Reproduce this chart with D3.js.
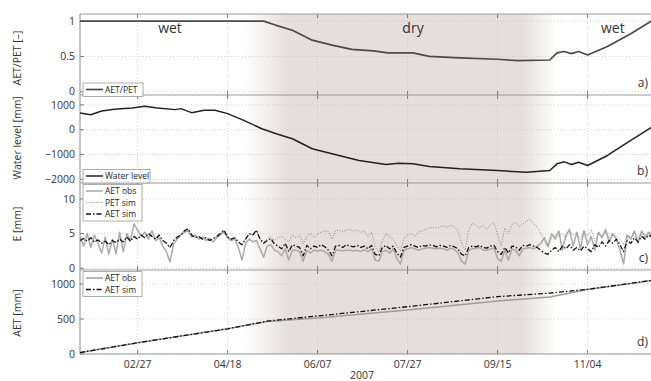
<!DOCTYPE html>
<html>
<head>
<meta charset="utf-8">
<script src="https://cdn.jsdelivr.net/npm/d3@7"></script>
<style>
  body { margin: 0; background: #fff; }
  svg { display: block; font-family: "Open Sans", sans-serif; }
</style>
</head>
<body>
<div id="chart"></div>
<script>
// ---- data ----
var xTickDates = ["02/27", "04/18", "06/07", "07/27", "09/15", "11/04"];
var seasonLabels = ["wet", "dry", "wet"];
var seasonDates = ["03/17", "07/30", "11/18"];
var dryShade = ["04/27", "05/22", "09/28", "10/18"];   // fade in, full, full, fade out

// a) AET/PET
var ratioDates = ["01/26", "05/08", "05/15", "05/24", "06/04", "06/15", "06/26", "07/08", "07/16", "07/30",
  "08/08", "08/25", "09/15", "09/26", "10/14", "10/18", "10/22", "10/26", "10/30", "11/04", "11/15", "11/28", "12/10"];
var ratioVals = [1, 1, 0.94, 0.87, 0.73, 0.66, 0.60, 0.58, 0.55, 0.55,
  0.50, 0.48, 0.46, 0.44, 0.45, 0.55, 0.57, 0.54, 0.57, 0.52, 0.64, 0.82, 1.01];

// b) water level
var waterDates = ["01/26", "02/01", "02/07", "02/14", "02/24", "03/03", "03/10", "03/20", "03/23", "03/29",
  "04/05", "04/11", "04/18", "04/27", "05/07", "05/15", "05/24", "06/04", "06/15", "06/30", "07/15", "07/22",
  "07/30", "08/08", "08/25", "09/15", "10/01", "10/14", "10/18", "10/22", "10/26", "10/30", "11/04", "11/15",
  "11/28", "12/10"];
var waterVals = [670, 600, 753, 822, 874, 943, 874, 810, 850, 688,
  781, 781, 648, 376, 40, -162, -364, -769, -972, -1243, -1405, -1352,
  -1377, -1480, -1579, -1648, -1717, -1648, -1377, -1296, -1405, -1312, -1445, -1040,
  -433, 120];

// c) daily E, one value every second day from 01/26
var aetObs = [4.5, 3.2, 5.0, 3.0, 4.8, 3.6, 2.2, 4.5, 2.0, 4.2,
  2.1, 5.2, 2.4, 5.0, 4.0, 6.4, 5.5, 4.6, 5.2, 4.2,
  5.4, 4.0, 4.4, 3.2, 2.4, 0.9, 3.5, 4.2, 4.8, 5.2,
  5.4, 4.5, 4.8, 4.2, 4.5, 4.0, 4.3, 3.8, 4.4, 4.8,
  5.2, 4.4, 4.0, 4.2, 3.0, 1.2, 3.6, 4.2, 3.8, 4.0,
  2.8, 1.6, 3.2, 3.4, 2.6, 2.4, 1.8, 2.8, 1.2, 2.6,
  2.6, 2.4, 1.0, 2.6, 2.2, 2.6, 2.5, 2.6, 2.4, 2.0,
  1.0, 2.6, 2.6, 2.5, 2.6, 2.6, 2.5, 2.6, 2.4, 2.7,
  2.4, 2.8, 1.2, 1.0, 2.4, 2.6, 2.2, 2.8, 1.4, 0.6,
  2.6, 2.8, 3.0, 2.8, 2.6, 2.8, 2.9, 3.0, 2.9, 2.8,
  2.9, 2.8, 2.6, 2.9, 2.7, 2.2, 1.0, 0.6, 2.6, 2.8,
  2.9, 3.0, 2.6, 2.6, 2.8, 2.9, 1.4, 1.0, 2.6, 1.2,
  2.8, 2.6, 1.8, 2.8, 2.9, 3.0, 2.8, 3.2, 3.6, 4.4,
  3.2, 5.0, 4.2, 5.4, 2.6, 4.8, 5.6, 3.2, 5.2, 2.8,
  5.4, 3.4, 4.6, 2.6, 5.2, 4.4, 5.6, 3.8, 5.0, 4.2,
  2.6, 0.6, 4.8, 4.2, 5.4, 3.6, 5.4, 4.4, 5.2, 4.6];
var petSim = [4.0, 4.3, 3.9, 4.4, 3.8, 4.1, 3.6, 3.9, 3.4, 4.0,
  3.7, 4.2, 3.8, 4.5, 3.9, 4.6, 4.2, 4.8, 4.4, 5.0,
  4.6, 4.2, 4.8, 4.0, 3.6, 3.0, 4.0, 4.5, 4.8, 5.4,
  5.7, 4.8, 4.4, 4.6, 4.2, 4.4, 4.0, 4.3, 4.6, 5.0,
  5.5, 4.5, 4.2, 4.4, 3.8, 3.4, 4.2, 5.0, 4.8, 5.5,
  4.2, 3.8, 4.2, 4.6, 4.0, 4.4, 4.6, 4.2, 3.8, 4.8,
  4.4, 4.8, 3.5, 4.6, 5.0, 4.4, 5.0, 5.2, 5.4, 5.3,
  4.2, 5.4, 5.5, 5.3, 5.5, 5.6, 5.4, 5.5, 5.2, 5.4,
  4.6, 5.2, 3.0, 2.4, 4.0, 5.0, 4.6, 4.2, 3.2, 2.5,
  4.4, 4.8, 5.0, 4.6, 5.2, 5.4, 5.6, 5.8, 5.9, 5.8,
  6.0, 6.1, 5.9, 6.2, 6.0, 5.4, 3.6, 2.6, 5.6, 6.5,
  6.2, 5.8, 6.2, 5.6, 6.3, 6.6, 4.8, 3.2, 5.8, 5.0,
  6.3, 6.6, 6.0, 6.4, 6.8, 7.1, 6.4, 6.0, 5.0, 4.0,
  3.0, 4.4, 4.8, 4.6, 5.0, 4.4, 5.2, 4.8, 5.0, 4.2,
  5.4, 4.6, 5.6, 4.0, 5.0, 4.6, 5.2, 4.4, 4.8, 4.6,
  4.2, 3.4, 4.8, 4.4, 5.0, 4.4, 5.0, 4.8, 5.2, 4.6];
var aetSim = [4.0, 4.3, 3.9, 4.4, 3.8, 4.1, 3.6, 3.9, 3.4, 4.0,
  3.7, 4.2, 3.8, 4.5, 3.9, 4.6, 4.2, 4.8, 4.4, 5.0,
  4.6, 4.2, 4.8, 4.0, 3.6, 3.0, 4.0, 4.5, 4.8, 5.4,
  5.7, 4.8, 4.4, 4.6, 4.2, 4.4, 4.0, 4.3, 4.6, 5.0,
  5.5, 4.5, 4.2, 4.4, 3.8, 3.4, 4.2, 5.0, 4.8, 5.5,
  4.2, 3.6, 4.0, 4.3, 3.5, 3.2, 2.8, 3.6, 2.4, 3.4,
  3.2, 3.0, 1.8, 3.3, 2.8, 3.2, 3.0, 3.4, 3.1, 2.6,
  1.8, 3.2, 3.3, 3.0, 3.4, 3.2, 3.1, 3.3, 3.0, 3.2,
  2.8, 3.3, 2.0, 1.8, 3.0, 3.3, 2.8, 3.2, 2.2, 1.6,
  3.0, 3.2, 3.4, 3.2, 3.0, 3.3, 3.2, 3.4, 3.3, 3.1,
  3.3, 3.2, 3.0, 3.3, 3.1, 2.8, 2.0, 1.8, 3.0, 3.2,
  3.1, 3.3, 3.0, 2.9, 3.2, 3.3, 2.4, 2.0, 3.0, 2.2,
  3.2, 3.1, 2.6, 3.3, 3.2, 3.4, 3.2, 3.0, 2.6, 2.2,
  2.0, 2.6, 3.0, 2.4, 3.2, 2.8, 3.4, 2.6, 3.0, 2.5,
  3.2, 2.8, 2.4, 3.4, 3.0, 3.8, 3.2, 4.0, 3.6, 4.2,
  3.4, 2.4, 4.0, 3.6, 4.4, 3.8, 4.6, 4.2, 4.8, 4.4];

// d) cumulative AET
var cumDates = ["01/26", "02/27", "04/18", "05/10", "06/07", "07/27", "09/15", "10/14", "11/04", "12/10"];
var cumObs = [20, 160, 360, 465, 514, 629, 757, 814, 922, 1050];
var cumSim = [20, 160, 360, 470, 543, 676, 819, 870, 924, 1055];

// ---- layout ----
var svgWidth = 651;
var svgHeight = 381;
var left = 80;
var right = 652.4;

var parseDay = d3.timeParse("%m/%d/%Y");
function day(s) { return parseDay(s + "/2007"); }

var x = d3.scaleTime()
  .domain([day("01/26"), day("12/10")])
  .range([left, right]);

var cDates = aetObs.map(function (v, i) { return d3.timeDay.offset(day("01/26"), 2 * i); });

var panels = [
  { top: 14, bottom: 95, domain: [-0.045, 1.1], ticks: [0, 0.5, 1], fmt: d3.format("~g"), label: "AET/PET [\u2013]", labelY: 58, letter: "a)" },
  { top: 95, bottom: 183, domain: [-2150, 1400], ticks: [-2000, -1000, 0, 1000], fmt: d3.format("d"), label: "Water level [mm]", labelY: 138, letter: "b)" },
  { top: 183, bottom: 270, domain: [-0.25, 12.3], ticks: [0, 5, 10], fmt: d3.format("d"), label: "E [mm]", labelY: 224, letter: "c)" },
  { top: 270, bottom: 354, domain: [0, 1200], ticks: [0, 500, 1000], fmt: d3.format("d"), label: "AET [mm]", labelY: 313, letter: "d)" }
];
panels.forEach(function (p) {
  p.y = d3.scaleLinear().domain(p.domain).range([p.bottom, p.top]);
});

var svg = d3.select("#chart")
  .append("svg")
  .attr("width", svgWidth)
  .attr("height", svgHeight);

var defs = svg.append("defs");

// dry season shading, fades in and out
var grad = defs.append("linearGradient")
  .attr("id", "dry")
  .attr("gradientUnits", "userSpaceOnUse")
  .attr("x1", left).attr("x2", right)
  .attr("y1", 0).attr("y2", 0);
var shadeCol = "#e5dedc";
var shadeOp = [0, 1, 1, 0];
dryShade.forEach(function (d, i) {
  grad.append("stop")
    .attr("offset", (x(day(d)) - left) / (right - left))
    .attr("stop-color", shadeCol)
    .attr("stop-opacity", shadeOp[i]);
});

svg.append("rect")
  .attr("x", left).attr("y", 14)
  .attr("width", right - left).attr("height", 354 - 14)
  .attr("fill", "url(#dry)");

panels.forEach(function (p, k) {
  defs.append("clipPath").attr("id", "clip" + k)
    .append("rect")
    .attr("x", left).attr("y", p.top)
    .attr("width", right - left).attr("height", p.bottom - p.top);
});

// grids, frames, ticks
panels.forEach(function (p) {
  var g = svg.append("g");

  g.selectAll(".hgrid").data(p.ticks).enter()
    .append("line")
    .attr("x1", left).attr("x2", right)
    .attr("y1", function (d) { return p.y(d); })
    .attr("y2", function (d) { return p.y(d); })
    .attr("stroke", "#c4c4c4")
    .attr("stroke-width", 0.8)
    .attr("stroke-dasharray", "1,2");

  g.selectAll(".vgrid").data(xTickDates).enter()
    .append("line")
    .attr("x1", function (d) { return x(day(d)); })
    .attr("x2", function (d) { return x(day(d)); })
    .attr("y1", p.top).attr("y2", p.bottom)
    .attr("stroke", "#c4c4c4")
    .attr("stroke-width", 0.8)
    .attr("stroke-dasharray", "1,2");

  // tick marks (inside, matlab style)
  xTickDates.forEach(function (d) {
    var xx = x(day(d));
    g.append("line").attr("x1", xx).attr("x2", xx).attr("y1", p.top).attr("y2", p.top + 4)
      .attr("stroke", "#777");
    g.append("line").attr("x1", xx).attr("x2", xx).attr("y1", p.bottom).attr("y2", p.bottom - 4)
      .attr("stroke", "#777");
  });
  p.ticks.forEach(function (t) {
    g.append("line").attr("x1", left).attr("x2", left + 4)
      .attr("y1", p.y(t)).attr("y2", p.y(t)).attr("stroke", "#777");
  });

  g.selectAll(".ytl").data(p.ticks).enter()
    .append("text")
    .attr("x", left - 5)
    .attr("y", function (d) { return p.y(d); })
    .attr("dy", "0.35em")
    .attr("text-anchor", "end")
    .style("font-size", "10.5px")
    .style("fill", "#333")
    .text(function (d) { return p.fmt(d); });

  g.append("text")
    .attr("transform", "translate(21," + p.labelY + ") rotate(-90)")
    .attr("text-anchor", "middle")
    .style("font-size", "10.5px")
    .style("fill", "#333")
    .text(p.label);

  g.append("text")
    .attr("x", 648).attr("y", p.bottom - 8)
    .attr("text-anchor", "end")
    .style("font-size", "12px")
    .style("fill", "#333")
    .text(p.letter);
});

// frame lines
svg.append("line").attr("x1", left).attr("x2", left).attr("y1", 14).attr("y2", 354)
  .attr("stroke", "#888");
[14, 95, 183, 270, 354].forEach(function (yy) {
  svg.append("line").attr("x1", left).attr("x2", right).attr("y1", yy).attr("y2", yy)
    .attr("stroke", "#999");
});

// x tick labels
svg.selectAll(".xtl").data(xTickDates).enter()
  .append("text")
  .attr("x", function (d) { return x(day(d)); })
  .attr("y", 368)
  .attr("text-anchor", "middle")
  .style("font-size", "10.5px")
  .style("fill", "#333")
  .text(function (d) { return d3.timeFormat("%m/%d")(day(d)); });

svg.append("text")
  .attr("x", 362).attr("y", 379)
  .attr("text-anchor", "middle")
  .style("font-size", "10.5px")
  .style("fill", "#333")
  .text("2007");

// season labels
svg.selectAll(".season").data(seasonLabels).enter()
  .append("text")
  .attr("x", function (d, i) { return x(day(seasonDates[i])); })
  .attr("y", 33)
  .attr("text-anchor", "middle")
  .style("font-size", "14px")
  .style("fill", "#333")
  .text(function (d) { return d; });

// ---- lines ----
function drawLine(k, dates, vals, stroke, width, dash) {
  var p = panels[k];
  var line = d3.line()
    .x(function (d, i) { return x(dates[i]); })
    .y(function (d) { return p.y(d); });
  svg.append("path")
    .datum(vals)
    .attr("clip-path", "url(#clip" + k + ")")
    .attr("d", line)
    .attr("fill", "none")
    .attr("stroke", stroke)
    .attr("stroke-width", width)
    .attr("stroke-linejoin", "round")
    .attr("stroke-dasharray", dash || null);
}

var dashDot = "5,2,1.5,2";

drawLine(0, ratioDates.map(day), ratioVals, "#4a4a4a", 1.7);
drawLine(1, waterDates.map(day), waterVals, "#222", 1.5);
drawLine(2, cDates, aetObs, "#a9a9a9", 1.5);
drawLine(2, cDates, petSim, "#8a8a8a", 1, "1,1.5");
drawLine(2, cDates, aetSim, "#111", 1.3, dashDot);
drawLine(3, cumDates.map(day), cumObs, "#9c9c9c", 1.5);
drawLine(3, cumDates.map(day), cumSim, "#111", 1.3, dashDot);

// ---- legends ----
function legend(x0, y0, w, items) {
  var g = svg.append("g");
  var step = 11.5;
  var h = items.length * step + 2;
  g.append("rect")
    .attr("x", x0).attr("y", y0)
    .attr("width", w).attr("height", h)
    .attr("fill", "#fff")
    .attr("stroke", "#999")
    .attr("stroke-width", 0.8);
  items.forEach(function (it, i) {
    var yy = y0 + 6.5 + i * step;
    g.append("line")
      .attr("x1", x0 + 3).attr("x2", x0 + 20)
      .attr("y1", yy).attr("y2", yy)
      .attr("stroke", it.stroke)
      .attr("stroke-width", it.width)
      .attr("stroke-dasharray", it.dash || null);
    g.append("text")
      .attr("x", x0 + 22).attr("y", yy + 3)
      .style("font-family", "'Liberation Sans Narrow', 'Open Sans', sans-serif")
      .style("font-size", "8.5px")
      .style("fill", "#222")
      .text(it.label);
  });
}

legend(83, 83, 60, [{ label: "AET/PET", stroke: "#4a4a4a", width: 1.7 }]);
legend(83, 169.5, 67, [{ label: "Water level", stroke: "#222", width: 1.5 }]);
legend(83, 184.5, 59, [
  { label: "AET obs", stroke: "#a9a9a9", width: 1.5 },
  { label: "PET sim", stroke: "#8a8a8a", width: 1, dash: "1,1.5" },
  { label: "AET sim", stroke: "#111", width: 1.3, dash: dashDot }
]);
legend(83, 271.5, 59, [
  { label: "AET obs", stroke: "#9c9c9c", width: 1.5 },
  { label: "AET sim", stroke: "#111", width: 1.3, dash: dashDot }
]);
</script>
</body>
</html>
